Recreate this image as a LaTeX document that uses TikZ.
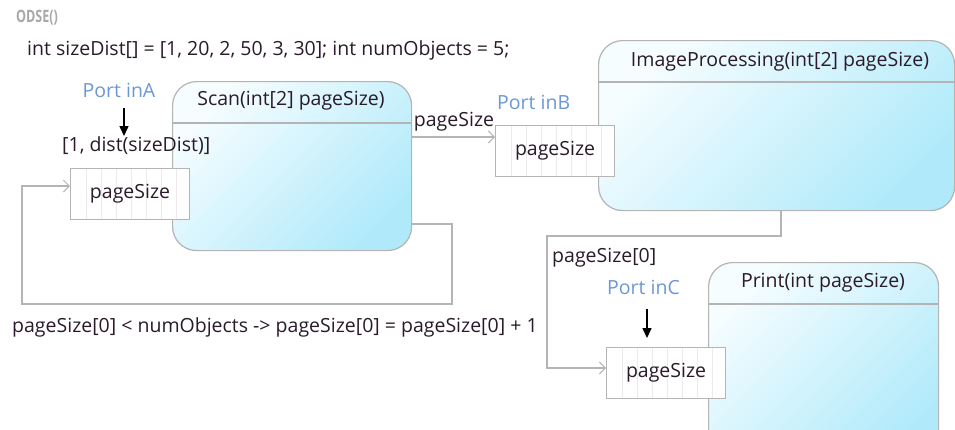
\documentclass[tikz,border=0pt]{standalone}
\usepackage{fontspec}
\setmainfont{Open Sans}
\usetikzlibrary{arrows.meta}
\definecolor{bordergray}{HTML}{B4B4B4}
\definecolor{cyanfill}{HTML}{B0EAFA}
\definecolor{cyanlight}{HTML}{F6FDFF}
\definecolor{portblue}{HTML}{6C97D6}
\definecolor{txt}{HTML}{2A1A2A}
\definecolor{stripe}{HTML}{EBEBEB}
\definecolor{headgray}{HTML}{A8A8A8}
\newcommand{\mainsize}{\fontsize{19.5}{22}\selectfont}
\tikzset{
  compbox/.style={draw=bordergray, line width=1.2pt, rounded corners=24pt,
    top color=cyanlight, bottom color=cyanfill, shading angle=45,
    anchor=north west, inner sep=0pt},
  portbox/.style={draw=bordergray, line width=1.1pt, fill=white, anchor=north west,
    minimum width=119pt, minimum height=51pt, inner sep=0pt, text=txt,
    font=\mainsize,
    path picture={\foreach \i in {1,...,7}
      \draw[stripe, line width=0.8pt] ([xshift=\i*15pt+1pt]path picture bounding box.north west)
        -- ([xshift=\i*15pt+1pt]path picture bounding box.south west);}},
  txtlbl/.style={text=txt, inner sep=0pt, font=\mainsize},
  portlbl/.style={text=portblue, inner sep=0pt, font=\mainsize},
  conn/.style={draw=bordergray, line width=1.2pt, -{Straight Barb[length=6pt, width=12pt, line width=1pt]}},
  blackarr/.style={draw=black, line width=1.5pt, -{Triangle[length=10pt, width=9pt]}},
}
\begin{document}
\begin{tikzpicture}[x=1pt, y=-1pt]
\useasboundingbox (0,0) rectangle (955,429);
% header texts
\node[anchor=west, text=headgray, inner sep=0pt, font=\fontsize{17}{19}\selectfont\bfseries, xscale=0.74] (odse) at (16,18) {ODSE()};
\node[txtlbl, anchor=west] (decl) at (27,50) {int sizeDist[] = [1, 20, 2, 50, 3, 30]; int numObjects = 5;};

% components
\node[compbox, minimum width=239pt, minimum height=169pt] (scan) at (172,81) {};
\draw[bordergray, line width=1.2pt] (scan.west |- 0,123) -- (scan.east |- 0,123);
\node[txtlbl] (scantitle) at (291,101) {Scan(int[2] pageSize)};

\node[compbox, minimum width=356pt, minimum height=170pt] (imgproc) at (598,40) {};
\draw[bordergray, line width=1.2pt] (imgproc.west |- 0,82) -- (imgproc.east |- 0,82);
\node[txtlbl] (imgtitle) at (780,62) {ImageProcessing(int[2] pageSize)};

\node[compbox, minimum width=230pt, minimum height=200pt] (print) at (708,262) {};
\draw[bordergray, line width=1.2pt] (print.west |- 0,304) -- (print.east |- 0,304);
\node[txtlbl] (printtitle) at (823,283) {Print(int pageSize)};

% ports
\node[portbox] (portA) at (70,168) {pageSize};
\node[portbox] (portB) at (495,125) {pageSize};
\node[portbox] (portC) at (606,347) {pageSize};

\node[portlbl] (portAlbl) at (119,90) {Port inA};
\node[portlbl, anchor=west] (portBlbl) at (497,102) {Port inB};
\node[portlbl, anchor=west] (portClbl) at (607,287) {Port inC};

\node[txtlbl, anchor=west] (initA) at (62,146) {[1, dist(sizeDist)]};

% black arrows
\coordinate (aTop) at (124,108);
\coordinate (aEnd) at (124,136);
\draw[blackarr] (aTop) -- (aEnd);
\coordinate (cTop) at (647,309);
\coordinate (cEnd) at (647,338);
\draw[blackarr] (cTop) -- (cEnd);

% connectors
\draw[conn] (scan.east |- 0,137) -- (portB.west |- 0,137);
\node[txtlbl] (lblB) at (454,122) {pageSize};

\draw[conn] (scan.east |- 0,224) -| (452,304) -| (22,186) -- (portA.west |- 0,186);
\node[txtlbl, anchor=west] (loopLbl) at (12,327) {pageSize[0] < numObjects -> pageSize[0] = pageSize[0] + 1};

\draw[conn] (imgproc.south -| 781,0) -- (781,236) -| (547,368) -- (portC.west |- 0,368);
\node[txtlbl, anchor=west] (lblC) at (552,258) {pageSize[0]};
\end{tikzpicture}
\end{document}
